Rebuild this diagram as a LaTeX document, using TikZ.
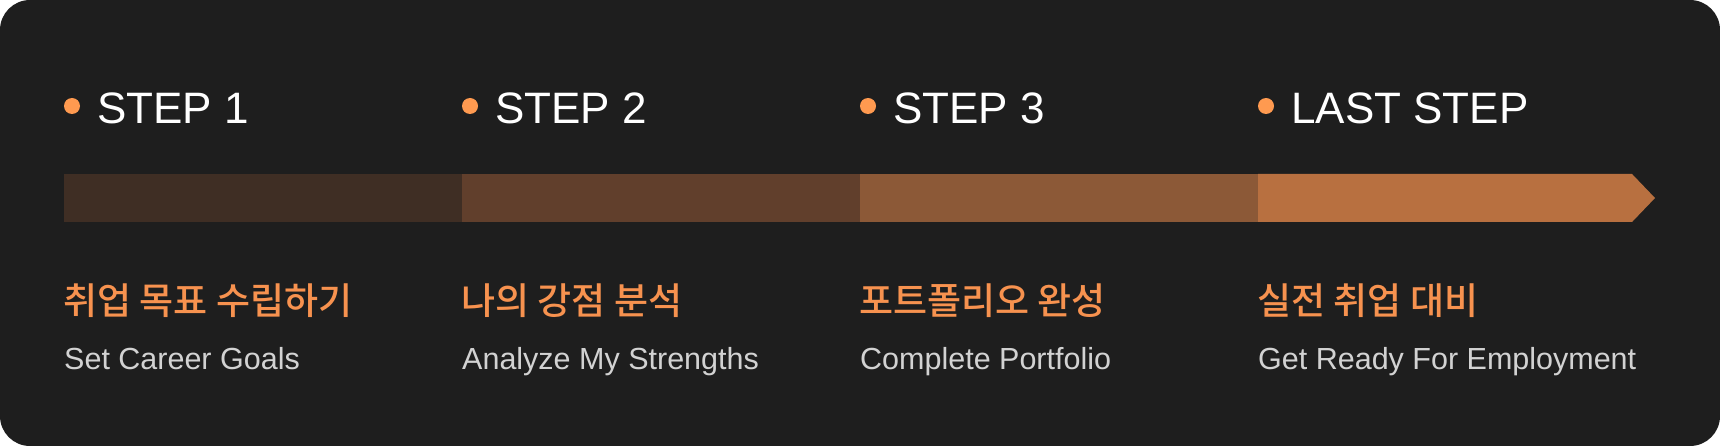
\documentclass[tikz,border=0pt]{standalone}
\usepackage{fontspec}
\setmainfont{Liberation Sans}
\newfontfamily\krfont{Noto Sans CJK KR Medium}
\definecolor{bgc}{HTML}{1E1E1E}
\definecolor{segA}{HTML}{3F2E24}
\definecolor{segB}{HTML}{613F2C}
\definecolor{segC}{HTML}{8C5937}
\definecolor{segD}{HTML}{B87040}
\definecolor{dotc}{HTML}{FF9A50}
\definecolor{krc}{HTML}{F7924F}
\definecolor{enc}{HTML}{D2D2D2}
\tikzset{
  steptitle/.style={inner sep=0pt, anchor=base west, text=white, font=\fontsize{44}{50}\selectfont},
  krtitle/.style={inner sep=0pt, anchor=base west, text=krc, font=\krfont\fontsize{37}{42}\selectfont},
  ensub/.style={inner sep=0pt, anchor=base west, text=enc, font=\fontsize{30.5}{36}\selectfont},
  stepdot/.style={circle, fill=dotc, inner sep=0pt, minimum size=16pt},
}
\begin{document}
\begin{tikzpicture}[x=1pt,y=-1pt]
\useasboundingbox (0,0) rectangle (1720,446);
\fill[bgc, rounded corners=30pt] (0,0) rectangle (1720,446);
% bar
\fill[segA] (64,174) rectangle (462,222);
\fill[segB] (462,174) rectangle (860,222);
\fill[segC] (860,174) rectangle (1258,222);
\fill[segD] (1258,174) -- (1632,174) -- (1655,198) -- (1632,222) -- (1258,222) -- cycle;
% columns
\foreach \cx/\ttl/\kr/\en [count=\i] in {
  64/STEP 1/취업 목표 수립하기/Set Career Goals,
  462/STEP 2/나의 강점 분석/Analyze My Strengths,
  860/STEP 3/포트폴리오 완성/Complete Portfolio,
  1258/LAST STEP/실전 취업 대비/Get Ready For Employment}{
  \node[stepdot] (d\i) at (\cx+8,106) {};
  \node[steptitle] (t\i) at (\cx+33,124) {\ttl};
  \node[krtitle] (k\i) at (\cx-1,314) {\kr};
  \node[ensub] (e\i) at (\cx,369) {\en};
}
\end{tikzpicture}
\end{document}
